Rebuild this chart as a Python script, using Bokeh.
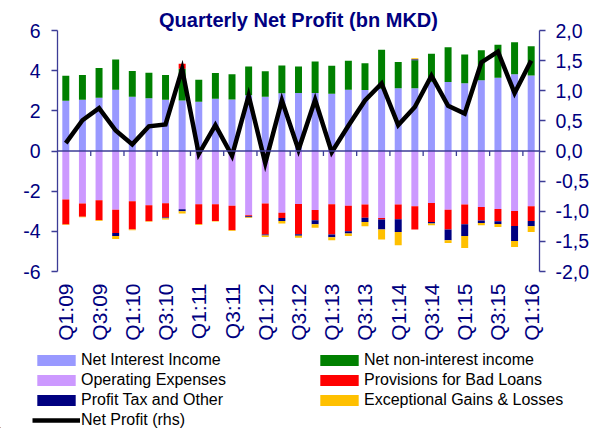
import math
from bokeh.plotting import figure
from bokeh.layouts import column
from bokeh.models import (Range1d, LinearAxis, FixedTicker, CustomJSTickFormatter, Span,
                          Legend, LegendItem, ColumnDataSource)
from bokeh.embed import file_html
from bokeh.resources import INLINE

quarters = ["Q1:09", "Q2:09", "Q3:09", "Q4:09", "Q1:10", "Q2:10", "Q3:10", "Q4:10",
            "Q1:11", "Q2:11", "Q3:11", "Q4:11", "Q1:12", "Q2:12", "Q3:12", "Q4:12",
            "Q1:13", "Q2:13", "Q3:13", "Q4:13", "Q1:14", "Q2:14", "Q3:14", "Q4:14",
            "Q1:15", "Q2:15", "Q3:15", "Q4:15", "Q1:16"]

net_interest = [2.50, 2.55, 2.65, 3.05, 2.70, 2.63, 2.55, 2.52, 2.45, 2.60, 2.57, 2.78, 2.70, 2.88, 2.89,
                2.89, 2.85, 3.05, 3.04, 3.10, 3.13, 3.13, 3.45, 3.43, 3.37, 3.52, 3.65, 3.82, 3.76]
net_non_interest = [1.25, 1.23, 1.48, 1.50, 1.28, 1.27, 1.23, 1.58, 1.10, 1.28, 1.25, 1.43, 1.27, 1.38, 1.32,
                    1.57, 1.40, 1.45, 1.33, 1.94, 1.30, 1.39, 1.39, 1.74, 1.44, 1.50, 1.64, 1.59, 1.46]
operating_exp = [-2.42, -2.62, -2.45, -2.92, -2.50, -2.70, -2.60, -2.90, -2.65, -2.65, -2.72, -3.20, -2.62, -3.08, -2.64,
                 -2.94, -2.65, -2.73, -2.67, -3.33, -2.67, -2.75, -2.59, -2.92, -2.67, -2.79, -2.89, -2.99, -2.75]
provisions = [-1.24, -0.66, -1.00, -1.16, -1.41, -0.80, -0.71, 0.25, -1.00, -0.83, -1.23, -0.05, -1.54, -0.25, -1.51,
              -0.51, -1.51, -1.27, -0.65, -0.08, -0.73, -1.16, -0.94, -0.99, -0.98, -0.67, -0.61, -0.74, -0.73]
profit_tax = [0.00, 0.00, 0.00, -0.15, 0.00, 0.00, -0.04, -0.10, 0.00, 0.00, 0.00, -0.05, -0.05, -0.15, -0.07,
              -0.20, -0.13, -0.11, -0.21, -0.50, -0.63, 0.05, -0.08, -0.53, -0.58, -0.12, -0.13, -0.75, -0.27]
exceptional = [-0.03, -0.02, -0.03, -0.15, -0.03, -0.02, -0.06, -0.11, -0.03, -0.03, -0.03, -0.03, -0.07, -0.13, -0.10,
               -0.17, -0.15, -0.12, -0.22, -0.50, -0.66, 0.05, -0.09, -0.14, -0.60, -0.12, -0.15, -0.30, -0.28]
net_profit = [0.13, 0.51, 0.71, 0.34, 0.11, 0.41, 0.44, 1.36, -0.05, 0.43, -0.08, 0.92, -0.20, 0.84, 0.02,
              0.85, -0.02, 0.42, 0.84, 1.12, 0.43, 0.73, 1.25, 0.75, 0.62, 1.47, 1.65, 0.96, 1.50]

lhs_ticks = [-6, -4, -2, 0, 2, 4, 6]
rhs_ticks = [-2.0, -1.5, -1.0, -0.5, 0.0, 0.5, 1.0, 1.5, 2.0]

NAVY = "#000080"
AXIS = "#3C3C96"
FONT = "Liberation Sans"

n = len(quarters)
idx = list(range(n))

p = figure(width=592, height=343, output_backend="svg", toolbar_location=None,
           x_range=Range1d(-0.5, n - 0.5), y_range=Range1d(-6, 6),
           min_border_left=57, min_border_right=51, min_border_top=30, min_border_bottom=71)
p.frame_align = False
p.extra_y_ranges = {"rhs": Range1d(-2, 2)}
p.outline_line_color = None
p.xgrid.visible = False
p.ygrid.visible = False
p.background_fill_color = "white"
p.border_fill_color = "white"

p.title.text = "Quarterly Net Profit (bn MKD)"
p.title.text_font = FONT
p.title.text_font_size = "20px"
p.title.text_font_style = "bold"
p.title.text_color = NAVY
p.title.align = "center"
p.title.standoff = 0

series = [("Net Interest Income", net_interest, "#9999FF"),
          ("Net non-interest income", net_non_interest, "#008000"),
          ("Operating Expenses", operating_exp, "#CC99FF"),
          ("Provisions for Bad Loans", provisions, "#FF0000"),
          ("Profit Tax and Other", profit_tax, "#000080"),
          ("Exceptional Gains & Losses", exceptional, "#FFC000")]

pos = [0.0] * n
neg = [0.0] * n
for name, vals, color in series:
    bottoms, tops = [], []
    for i, v in enumerate(vals):
        if v >= 0:
            bottoms.append(pos[i]); tops.append(pos[i] + v); pos[i] += v
        else:
            tops.append(neg[i]); bottoms.append(neg[i] + v); neg[i] += v
    src = ColumnDataSource(dict(x=idx, bottom=bottoms, top=tops))
    p.vbar(x="x", bottom="bottom", top="top", width=0.42, source=src,
           fill_color=color, line_color=None)

zero = Span(location=0, dimension="width", line_color=AXIS, line_width=1.3)
p.add_layout(zero)
tick_x = [i + 1.5 for i in range(0, n - 1, 2)]
p.segment(x0=tick_x, y0=[0] * len(tick_x), x1=tick_x, y1=[-0.25] * len(tick_x),
          line_color=AXIS, line_width=1.3)

p.line(x=idx, y=net_profit, y_range_name="rhs", line_color="black",
       line_width=4.5, line_join="miter")

yl = p.yaxis[0]
yl.ticker = FixedTicker(ticks=lhs_ticks)
yl.formatter = CustomJSTickFormatter(code="return tick.toFixed(0)")
yr = LinearAxis(y_range_name="rhs", ticker=FixedTicker(ticks=rhs_ticks),
                formatter=CustomJSTickFormatter(code="return tick.toFixed(1).replace('.', ',')"))
p.add_layout(yr, "right")
for ax in (yl, yr):
    ax.axis_line_color = AXIS
    ax.axis_line_width = 1.3
    ax.major_tick_line_color = AXIS
    ax.major_tick_line_width = 1.3
    ax.major_tick_out = 6
    ax.major_tick_in = 0
    ax.minor_tick_line_color = None
    ax.major_label_text_font = FONT
    ax.major_label_text_color = NAVY
    ax.major_label_text_font_size = "19.5px"
yl.major_label_standoff = 11
yr.major_label_standoff = 10

xa = p.xaxis[0]
xa.ticker = FixedTicker(ticks=idx[::2])
xa.formatter = CustomJSTickFormatter(args=dict(labels=quarters),
                                     code="return (tick >= 0 && tick < labels.length) ? labels[Math.round(tick)] : ''")
xa.major_label_orientation = math.pi / 2
xa.axis_line_color = None
xa.major_tick_line_color = None
xa.minor_tick_line_color = None
xa.major_tick_out = 0
xa.major_label_standoff = 12
xa.major_label_text_font = FONT
xa.major_label_text_font_size = "21px"
xa.major_label_text_color = NAVY

# legend strip below the chart (proxy glyphs sit outside the visible range)
lg = figure(width=592, height=85, output_backend="svg", toolbar_location=None,
            x_range=Range1d(0, 592), y_range=Range1d(0, 85),
            x_axis_location=None, y_axis_location=None,
            min_border=0, min_border_left=0, min_border_right=0, min_border_top=0, min_border_bottom=0)
lg.frame_align = False
lg.outline_line_color = None
lg.xgrid.visible = False
lg.ygrid.visible = False
lg.border_fill_color = "white"
key = {}
for name, vals, color in series:
    key[name] = lg.vbar(x=[-100], top=[1], width=1, fill_color=color, line_color=None)
key["Net Profit (rhs)"] = lg.line(x=[-100, -90], y=[1, 1], line_color="black", line_width=4.5)

order = ["Net Interest Income", "Operating Expenses", "Profit Tax and Other", "Net Profit (rhs)",
         "Net non-interest income", "Provisions for Bad Loans", "Exceptional Gains & Losses"]
legend = Legend(items=[LegendItem(label=k, renderers=[key[k]]) for k in order],
                location=(32, -2), orientation="vertical", nrows=4,
                glyph_width=48, glyph_height=14, label_height=20, label_width=234,
                label_standoff=1, spacing=0, padding=0, margin=0,
                border_line_color=None, background_fill_alpha=0,
                label_text_font=FONT, label_text_font_size="16px", label_text_color="black")
lg.add_layout(legend)

open("out.html", "w").write(file_html(column(p, lg), INLINE))
